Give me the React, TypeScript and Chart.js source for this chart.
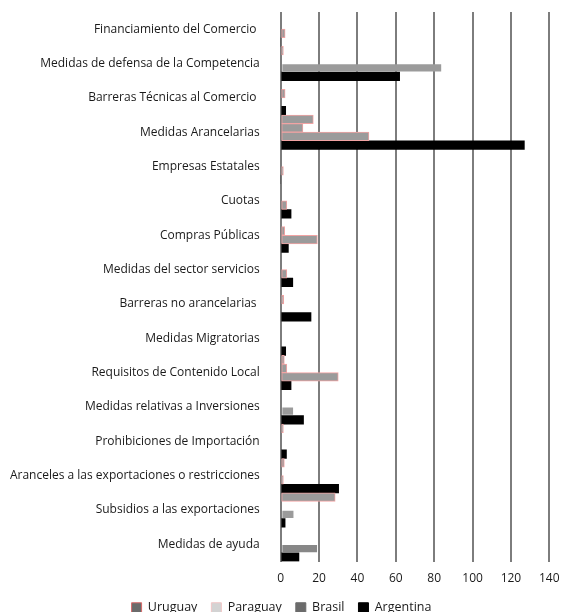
import React, { useEffect, useRef } from "react";
import { Chart, registerables } from "chart.js";

Chart.register(...registerables);

const categories = [
  "Financiamiento del Comercio ",
  "Medidas de defensa de la Competencia",
  "Barreras Técnicas al Comercio ",
  "Medidas Arancelarias",
  "Empresas Estatales",
  "Cuotas",
  "Compras Públicas",
  "Medidas del sector servicios",
  "Barreras no arancelarias ",
  "Medidas Migratorias",
  "Requisitos de Contenido Local",
  "Medidas relativas a Inversiones",
  "Prohibiciones de Importación",
  "Aranceles a las exportaciones o restricciones",
  "Subsidios a las exportaciones",
  "Medidas de ayuda",
];

const seriesNames = ["Uruguay", "Paraguay", "Brasil", "Argentina"];

const uruguay = [0, 1.4, 0, 17, 0, 0, 0, 0, 0, 0, 1.9, 0, 1.4, 1.9, 28.4, 0];
const paraguay = [0, 0, 2.3, 11.6, 0, 0, 2.1, 0, 1.6, 0, 3.2, 0, 0, 0, 0, 0];
const brasil = [2.3, 84, 0, 46, 1.4, 3.2, 19.1, 3.2, 0, 0, 30, 6.8, 0, 1.4, 7, 19.3];
const argentina = [0, 62, 2.6, 127, 0, 5.4, 4, 6.3, 15.8, 2.6, 5.4, 11.9, 3, 30.2, 2.3, 9.5];

const xMin = 0;
const xMax = 140;
const xStep = 20;

// style helpers (not data)
const brasilPlainIdx = [1, 11, 14, 15];
const PINK = "#f2a3a3";
const BAR_GRAY = "#9b9b9b";
const FONT = "'Open Sans', sans-serif";

const legendFill = ["#6b6b6b", "#d3d3d3", "#6b6b6b", "#000000"];
const legendStroke = ["#d86a6a", "#f1c6c6", "#6b6b6b", "#000000"];

export default function App() {
  const ref = useRef<HTMLCanvasElement>(null);

  useEffect(() => {
    if (!ref.current) return;
    const chart = new Chart(ref.current, {
      type: "bar",
      data: {
        labels: categories,
        datasets: [
          {
            label: seriesNames[0],
            data: uruguay,
            backgroundColor: BAR_GRAY,
            borderColor: PINK,
            borderWidth: 1,
            borderSkipped: false,
          },
          {
            label: seriesNames[1],
            data: paraguay,
            backgroundColor: BAR_GRAY,
            borderColor: PINK,
            borderWidth: 1,
            borderSkipped: false,
          },
          {
            label: seriesNames[2],
            data: brasil,
            backgroundColor: (ctx: any) => (ctx.dataIndex === 15 ? "#878787" : BAR_GRAY),
            borderColor: (ctx: any) =>
              brasilPlainIdx.includes(ctx.dataIndex) ? "rgba(0,0,0,0)" : PINK,
            borderWidth: 1,
            borderSkipped: false,
          },
          {
            label: seriesNames[3],
            data: argentina,
            backgroundColor: "#000000",
            borderColor: "#000000",
            borderWidth: 0,
          },
        ],
      },
      options: {
        indexAxis: "y",
        animation: false,
        responsive: false,
        maintainAspectRatio: false,
        datasets: {
          bar: { categoryPercentage: 1, barPercentage: 1 },
        },
        layout: { padding: { top: 12, right: 0, left: 0, bottom: 0 } },
        scales: {
          x: {
            min: xMin,
            max: xMax,
            ticks: {
              stepSize: xStep,
              padding: 10,
              color: "#1a1a1a",
              font: { family: FONT, size: 12 },
            },
            grid: { color: "#7d7d7d", lineWidth: 2, drawTicks: false },
            border: { display: false },
            afterFit: (axis: any) => {
              axis.height = 26;
              axis.paddingLeft = 0;
              axis.paddingRight = 13.7;
            },
          },
          y: {
            ticks: {
              padding: 21,
              color: "#1a1a1a",
              font: { family: FONT, size: 12 },
              autoSkip: false,
            },
            grid: { display: false, drawTicks: false },
            border: { display: false },
            afterFit: (axis: any) => {
              axis.width = 280.7;
              axis.paddingTop = 0;
              axis.paddingBottom = 0;
            },
          },
        },
        plugins: {
          tooltip: { enabled: false },
          legend: {
            position: "bottom",
            labels: {
              boxWidth: 10,
              boxHeight: 10,
              padding: 14,
              color: "#1a1a1a",
              font: { family: FONT, size: 12.5 },
              generateLabels: () =>
                seriesNames.map((name, i) => ({
                  text: name,
                  fillStyle: legendFill[i],
                  strokeStyle: legendStroke[i],
                  lineWidth: 1,
                  hidden: false,
                  datasetIndex: i,
                  fontColor: "#1a1a1a",
                })),
            },
          },
        },
      },
    });
    return () => chart.destroy();
  }, []);

  return (
    <div style={{ position: "absolute", left: 0, top: 0, width: 563, height: 624, background: "#fff" }}>
      <canvas ref={ref} width={563} height={624} style={{ display: "block" }} />
    </div>
  );
}
